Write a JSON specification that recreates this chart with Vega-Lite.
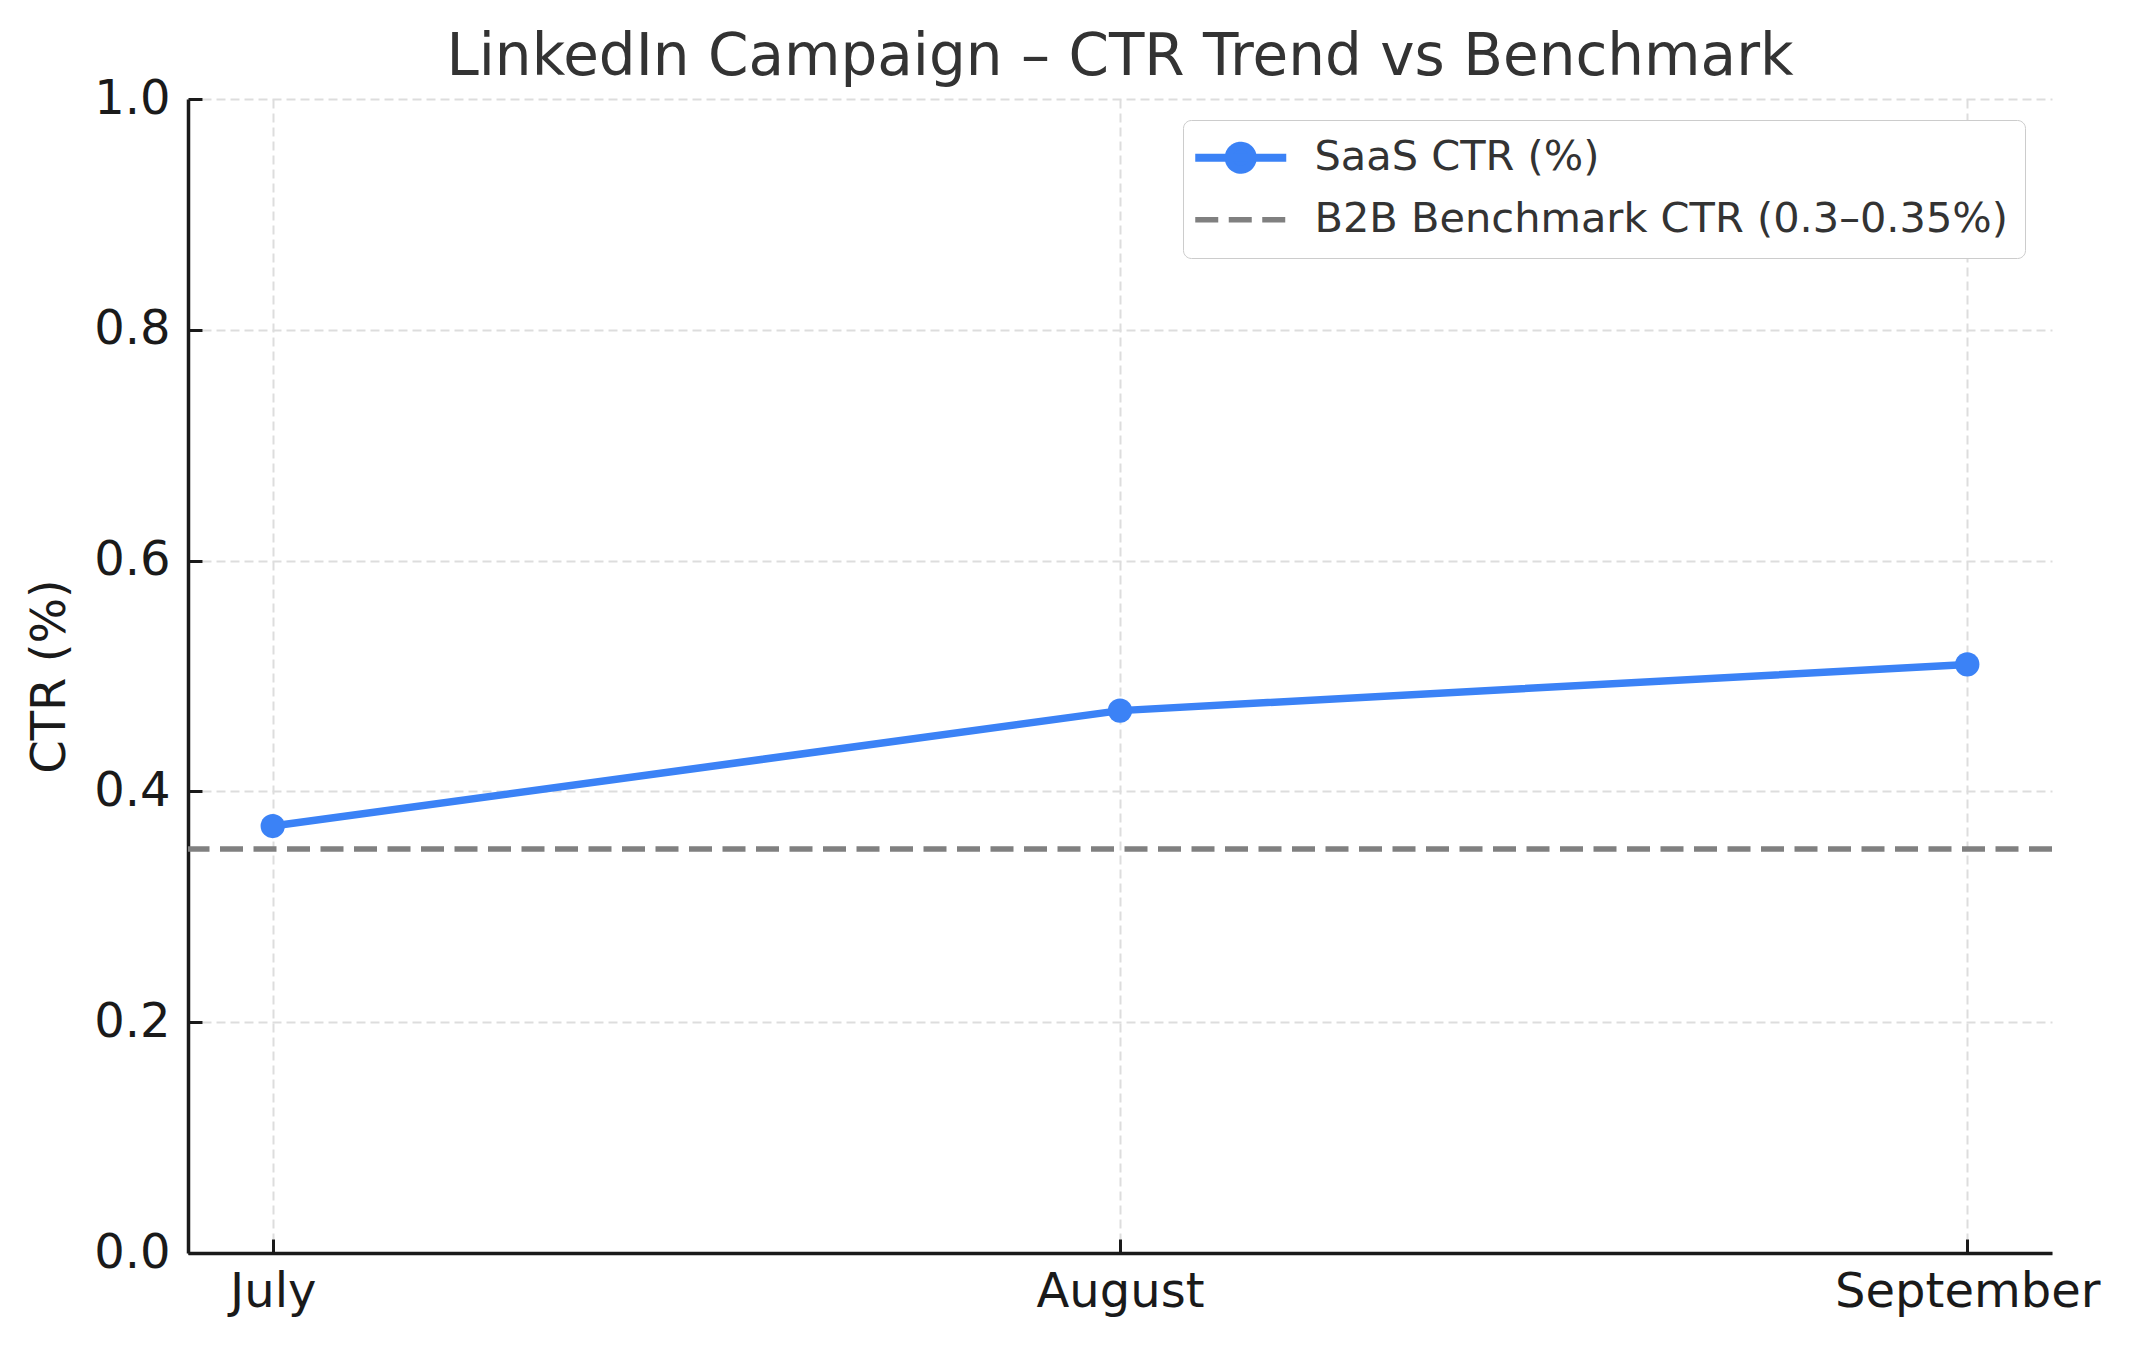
{
  "$schema": "https://vega.github.io/schema/vega-lite/v6.json",
  "autosize": {"type": "none"},
  "padding": {"left": 188, "top": 99, "right": 80, "bottom": 94},
  "width": 1864,
  "height": 1154,
  "background": "white",
  "title": {
    "text": "LinkedIn Campaign – CTR Trend vs Benchmark",
    "font": "DejaVu Sans",
    "fontSize": 58,
    "fontWeight": "normal",
    "color": "#333333",
    "anchor": "middle",
    "baseline": "alphabetic",
    "offset": -58
  },
  "datasets": {
    "saas": [
      {"month": "July", "ctr": 0.37, "series": "SaaS CTR (%)"},
      {"month": "August", "ctr": 0.47, "series": "SaaS CTR (%)"},
      {"month": "September", "ctr": 0.51, "series": "SaaS CTR (%)"}
    ],
    "bench": [
      {"ctr": 0.35, "series": "B2B Benchmark CTR (0.3–0.35%)"}
    ]
  },
  "config": {
    "view": {"stroke": null},
    "font": "DejaVu Sans",
    "axis": {
      "labelFont": "DejaVu Sans",
      "titleFont": "DejaVu Sans",
      "labelFontSize": 48,
      "titleFontSize": 48,
      "labelColor": "#1a1a1a",
      "titleColor": "#1a1a1a",
      "titleFontWeight": "normal",
      "domainColor": "#1a1a1a",
      "domainWidth": 3.5,
      "tickColor": "#1a1a1a",
      "tickWidth": 3,
      "tickSize": -14,
      "labelLimit": 1000,
      "grid": true,
      "gridColor": "#dddddd",
      "gridWidth": 2,
      "gridDash": [9, 5]
    }
  },
  "layer": [
    {
      "data": {"name": "bench"},
      "mark": {"type": "rule", "strokeWidth": 5.5, "strokeDash": [23, 10.5]},
      "encoding": {
        "y": {"field": "ctr", "type": "quantitative"},
        "color": {"field": "series", "type": "nominal"}
      }
    },
    {
      "data": {"name": "saas"},
      "mark": {"type": "line", "strokeWidth": 7.5},
      "encoding": {
        "x": {
          "field": "month",
          "type": "ordinal",
          "sort": ["July", "August", "September"],
          "scale": {"type": "point", "padding": 0.1},
          "axis": {"title": null, "labelAngle": 0, "labelPadding": 29, "labelBaseline": "top", "labelOverlap": false}
        },
        "y": {
          "field": "ctr",
          "type": "quantitative",
          "scale": {"domain": [0, 1], "nice": false, "zero": true},
          "axis": {
            "title": "CTR (%)",
            "values": [0, 0.2, 0.4, 0.6, 0.8, 1.0],
            "format": ".1f",
            "labelPadding": 32,
            "titlePadding": 19
          }
        },
        "color": {
          "field": "series",
          "type": "nominal",
          "scale": {
            "domain": ["SaaS CTR (%)", "B2B Benchmark CTR (0.3–0.35%)"],
            "range": ["#3b82f6", "#808080"]
          },
          "legend": {
            "title": null,
            "orient": "none",
            "legendX": 995,
            "legendY": 21,
            "padding": 17,
            "fillColor": "white",
            "strokeColor": "#cccccc",
            "cornerRadius": 8,
            "labelFont": "DejaVu Sans",
            "labelFontSize": 41.5,
            "labelColor": "#333333",
            "labelOffset": 53,
            "symbolOffset": 20,
            "rowPadding": 12,
            "symbolSize": 8281,
            "symbolStrokeWidth": 7.5,
            "symbolType": "M-1,0H1",
            "labelLimit": 1000,
            "encode": {
              "symbols": {
                "update": {
                  "shape": {"signal": "datum.value === 'SaaS CTR (%)' ? 'M-1,0H1M0.264,0A0.264,0.264,0,1,1,-0.264,0A0.264,0.264,0,1,1,0.264,0Z' : 'M-1,0H1'"},
                  "fill": {"signal": "datum.value === 'SaaS CTR (%)' ? '#3b82f6' : 'transparent'"},
                  "fillOpacity": {"value": 1},
                  "strokeDash": {"signal": "datum.value === 'SaaS CTR (%)' ? [1, 0] : [23, 10.5]"},
                  "strokeWidth": {"signal": "datum.value === 'SaaS CTR (%)' ? 8 : 5.5"}
                }
              }
            }
          }
        }
      }
    },
    {
      "data": {"name": "saas"},
      "mark": {"type": "point", "filled": true, "size": 590, "opacity": 1},
      "encoding": {
        "x": {"field": "month", "type": "ordinal", "sort": ["July", "August", "September"]},
        "y": {"field": "ctr", "type": "quantitative"},
        "color": {"field": "series", "type": "nominal", "legend": null}
      }
    }
  ]
}
